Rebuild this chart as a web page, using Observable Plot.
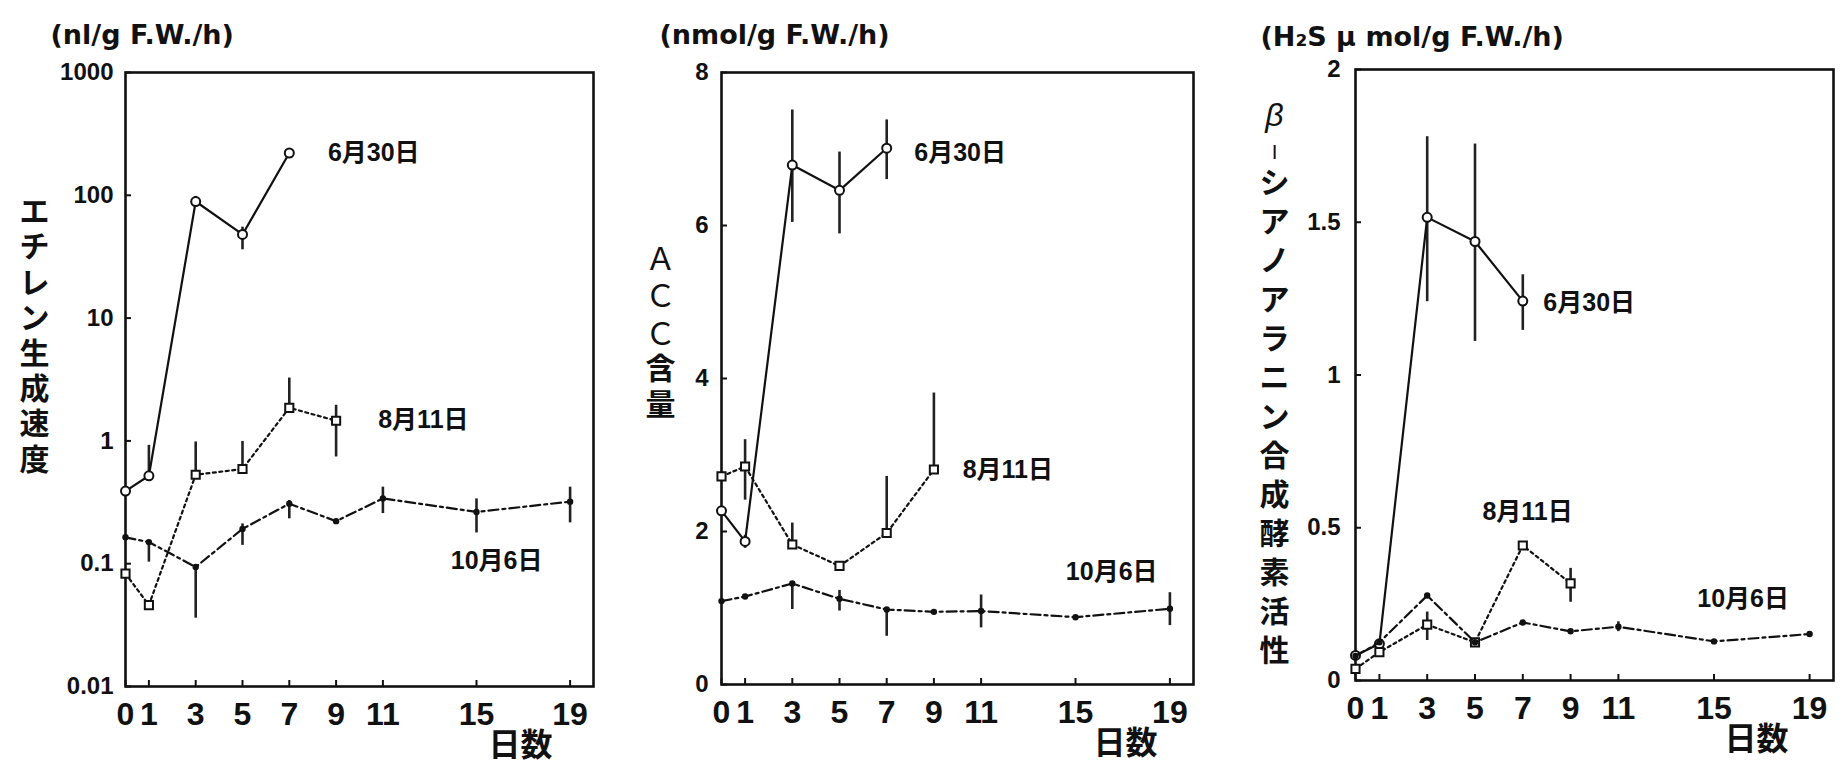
<!DOCTYPE html>
<html>
<head>
<meta charset="utf-8">
<script src="https://cdn.jsdelivr.net/npm/d3@7"></script>
<script src="https://cdn.jsdelivr.net/npm/@observablehq/plot@0.6"></script>
<style>
  html, body { margin: 0; padding: 0; background: #fff; }
  #wrap { display: flex; width: 1847px; height: 765px; background: #fff; }
  #wrap svg { display: block; }
</style>
</head>
<body>
<div id="wrap"></div>
<script>
// ---------- data ----------
const days = [0, 1, 3, 5, 7, 9, 11, 15, 19];
const seriesNames = ["6月30日", "8月11日", "10月6日"];

// Panel 1: エチレン生成速度 (nl/g F.W./h), log scale
const ethDaysJun = [0, 1, 3, 5, 7];
const ethJun = [0.39, 0.52, 89, 48, 221];
const ethJunLo = [null, 0.52, 80, 36, null];
const ethJunHi = [null, 0.92, 98, 55, null];
const ethDaysAug = [0, 1, 3, 5, 7, 9];
const ethAug = [0.083, 0.046, 0.53, 0.59, 1.86, 1.46];
const ethAugLo = [null, null, 0.53, 0.59, 1.86, 0.74];
const ethAugHi = [null, null, 0.98, 0.99, 3.25, 1.95];
const ethOct = [0.164, 0.15, 0.094, 0.192, 0.308, 0.222, 0.34, 0.264, 0.32];
const ethOctLo = [null, 0.103, 0.036, 0.141, 0.232, null, 0.256, 0.178, 0.215];
const ethOctHi = [null, 0.15, 0.094, 0.211, 0.327, null, 0.42, 0.337, 0.42];
const ethTicks = [0.01, 0.1, 1, 10, 100, 1000];
const ethLabelX = [8.65, 10.8, 13.9];
const ethLabelY = [221, 1.47, 0.105];

// Panel 2: ACC含量 (nmol/g F.W./h)
const accDaysJun = [0, 1, 3, 5, 7];
const accJun = [2.27, 1.87, 6.79, 6.46, 7.01];
const accJunLo = [null, 1.78, 6.04, 5.89, 6.6];
const accJunHi = [null, 1.95, 7.51, 6.96, 7.38];
const accDaysAug = [0, 1, 3, 5, 7, 9];
const accAug = [2.72, 2.85, 1.83, 1.55, 1.98, 2.81];
const accAugLo = [null, 2.41, 1.83, null, 1.98, 2.81];
const accAugHi = [null, 3.2, 2.11, null, 2.72, 3.81];
const accOct = [1.09, 1.15, 1.32, 1.12, 0.98, 0.95, 0.96, 0.88, 0.99];
const accOctLo = [null, null, 0.98, 0.96, 0.63, null, 0.74, null, 0.77];
const accOctHi = [null, null, 1.32, 1.23, 0.98, null, 1.17, null, 1.2];
const accTicks = [0, 2, 4, 6, 8];
const accLabelX = [8.17, 10.22, 14.59];
const accLabelY = [6.95, 2.8, 1.47];

// Panel 3: β-シアノアラニン合成酵素活性 (H2S μmol/g F.W./h)
const casDaysJun = [0, 1, 3, 5, 7];
const casJun = [0.082, 0.12, 1.516, 1.437, 1.242];
const casJunLo = [null, null, 1.24, 1.11, 1.146];
const casJunHi = [null, null, 1.78, 1.756, 1.328];
const casDaysAug = [0, 1, 3, 5, 7, 9];
const casAug = [0.038, 0.093, 0.183, 0.125, 0.442, 0.318];
const casAugLo = [null, null, 0.131, null, null, 0.256];
const casAugHi = [null, null, 0.224, null, null, 0.367];
const casOct = [0.08, 0.125, 0.278, 0.125, 0.19, 0.161, 0.176, 0.128, 0.152];
const casOctLo = [null, null, null, null, null, null, 0.16, null, null];
const casOctHi = [null, null, null, null, null, null, 0.192, null, null];
const casTicks = [0, 0.5, 1, 1.5, 2];
const casLabelX = [7.86, 5.31, 14.3];
const casLabelY = [1.237, 0.551, 0.268];

// ---------- helpers ----------
const FONT = '"Liberation Sans", Arial, "Noto Sans CJK JP", sans-serif';
const WFONT = '"DejaVu Sans", "Liberation Sans", "Noto Sans CJK JP", sans-serif';

function rows(xs, vs, lo, hi) {
  return xs.map((x, i) => ({x, v: vs[i], lo: lo[i], hi: hi[i]}));
}

function seriesMarks(data, kind) {
  const dash = kind === 0 ? null : kind === 1 ? "3,3.5" : "10,4,3,4";
  const marks = [
    Plot.ruleX(data.filter(d => d.lo != null), {x: "x", y1: "lo", y2: "hi", stroke: "#222", strokeWidth: 2.6}),
    Plot.line(data, {x: "x", y: "v", stroke: "#111", strokeWidth: 2.2, strokeDasharray: dash})
  ];
  if (kind === 0) marks.push(Plot.dot(data, {x: "x", y: "v", symbol: "circle", r: 4.5, fill: "white", stroke: "#111", strokeWidth: 2}));
  else if (kind === 1) marks.push(Plot.dot(data, {x: "x", y: "v", symbol: "square", r: 4.6, fill: "white", stroke: "#111", strokeWidth: 2}));
  else marks.push(Plot.dot(data, {x: "x", y: "v", symbol: "circle", r: 3.2, fill: "#111", stroke: "none"}));
  return marks;
}

function panel(cfg) {
  const labelData = seriesNames.map((t, i) => ({t, x: cfg.labelX[i], y: cfg.labelY[i]}));
  return Plot.plot({
    width: cfg.width, height: 765,
    marginLeft: cfg.ml, marginRight: cfg.mr, marginTop: cfg.mt, marginBottom: cfg.mb,
    style: {fontFamily: FONT, background: "white", overflow: "visible", color: "#111"},
    x: {domain: [0, 20]},
    y: cfg.y,
    marks: [
      // inward ticks
      Plot.axisX({ticks: days, tickSize: -6, tickFormat: () => "", strokeWidth: 2, label: null}),
      Plot.axisY({ticks: cfg.ticks, tickSize: -6, tickFormat: () => "", strokeWidth: 2, label: null}),
      // tick labels
      Plot.axisX({ticks: days, tickSize: 0, tickPadding: 16, fontSize: 32, fontWeight: "bold", tickFormat: d => String(d), label: null}),
      Plot.axisY({ticks: cfg.ticks, tickSize: 0, tickPadding: cfg.ypad, fontSize: 24, fontWeight: "bold", tickFormat: d => String(d), label: null}),
      Plot.frame({stroke: "#111", strokeWidth: 2.6}),
      ...seriesMarks(cfg.jun, 0),
      ...seriesMarks(cfg.aug, 1),
      ...seriesMarks(cfg.oct, 2),
      Plot.text(labelData, {x: "x", y: "y", text: "t", textAnchor: "start", lineAnchor: "middle",
        fontSize: 25, fontWeight: "bold", fontFamily: FONT, fill: "#111"}),
      // unit title above the frame
      Plot.text([cfg.title], {frameAnchor: "top-left", dx: cfg.titleDx, dy: cfg.titleDy, textAnchor: "start",
        lineAnchor: "middle", fontSize: 27, fontWeight: "bold", fontFamily: WFONT, fill: "#111"}),
      // x axis title
      Plot.text(["日数"], {frameAnchor: "bottom-right", dx: cfg.xtDx, dy: 59, textAnchor: "end",
        lineAnchor: "middle", fontSize: 32, fontWeight: "bold", fontFamily: FONT, fill: "#111"}),
      ...cfg.ytitle
    ]
  });
}

const stack = s => Array.from(s).join("\n");

const wrap = document.getElementById("wrap");

wrap.appendChild(panel({
  width: 620, ml: 125, mr: 27, mt: 72, mb: 79,
  y: {type: "log", domain: [0.01, 1000]},
  ticks: ethTicks, ypad: 12,
  jun: rows(ethDaysJun, ethJun, ethJunLo, ethJunHi),
  aug: rows(ethDaysAug, ethAug, ethAugLo, ethAugHi),
  oct: rows(days, ethOct, ethOctLo, ethOctHi),
  labelX: ethLabelX, labelY: ethLabelY,
  title: "(nl/g F.W./h)", titleDx: -75, titleDy: -37,
  xtDx: -41,
  ytitle: [
    Plot.text([stack("エチレン生成速度")], {frameAnchor: "top-left", dx: -91, dy: 262, textAnchor: "middle",
      lineAnchor: "middle", lineHeight: 1.18, fontSize: 30, fontWeight: "bold", fontFamily: FONT, fill: "#111"})
  ]
}));

wrap.appendChild(panel({
  width: 620, ml: 101, mr: 47, mt: 72, mb: 81,
  y: {domain: [0, 8]},
  ticks: accTicks, ypad: 13,
  jun: rows(accDaysJun, accJun, accJunLo, accJunHi),
  aug: rows(accDaysAug, accAug, accAugLo, accAugHi),
  oct: rows(days, accOct, accOctLo, accOctHi),
  labelX: accLabelX, labelY: accLabelY,
  title: "(nmol/g F.W./h)", titleDx: -62, titleDy: -37,
  xtDx: -36,
  ytitle: [
    Plot.text([stack("ＡＣＣ")], {frameAnchor: "top-left", dx: -61, dy: 223, textAnchor: "middle",
      lineAnchor: "middle", lineHeight: 1.2, fontSize: 31, fontWeight: "normal", fontFamily: FONT, fill: "#111"}),
    Plot.text([stack("含量")], {frameAnchor: "top-left", dx: -61, dy: 313, textAnchor: "middle",
      lineAnchor: "middle", lineHeight: 1.2, fontSize: 30, fontWeight: "bold", fontFamily: FONT, fill: "#111"})
  ]
}));

wrap.appendChild(panel({
  width: 607, ml: 115, mr: 14, mt: 69, mb: 85,
  y: {domain: [0, 2]},
  ticks: casTicks, ypad: 15,
  jun: rows(casDaysJun, casJun, casJunLo, casJunHi),
  aug: rows(casDaysAug, casAug, casAugLo, casAugHi),
  oct: rows(days, casOct, casOctLo, casOctHi),
  labelX: casLabelX, labelY: casLabelY,
  title: "(H₂S μ mol/g F.W./h)", titleDx: -95, titleDy: -32,
  xtDx: -45,
  ytitle: [
    Plot.text(["β"], {frameAnchor: "top-left", dx: -81, dy: 46, textAnchor: "middle",
      lineAnchor: "middle", fontSize: 32, fontStyle: "italic", fontFamily: FONT, fill: "#111"}),
    Plot.text(["|"], {frameAnchor: "top-left", dx: -81, dy: 82, textAnchor: "middle",
      lineAnchor: "middle", fontSize: 15, fontWeight: "bold", fontFamily: FONT, fill: "#111"}),
    Plot.text([stack("シアノアラニン合成酵素活性")], {frameAnchor: "top-left", dx: -81, dy: 345, textAnchor: "middle",
      lineAnchor: "middle", lineHeight: 1.3, fontSize: 30, fontWeight: "bold", fontFamily: FONT, fill: "#111"})
  ]
}));
</script>
</body>
</html>
